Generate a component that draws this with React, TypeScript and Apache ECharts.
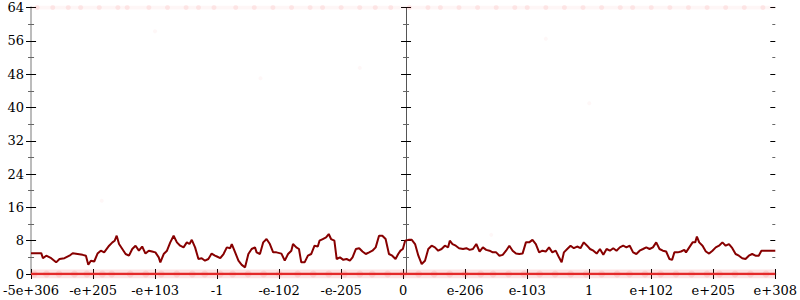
import React, { useEffect, useRef } from "react";
import * as echarts from "echarts";

// x axis: 13 evenly spaced tick positions (0..12) with these labels
const xTickLabels = [
  "-5e+306", "-e+205", "-e+103", "-1", "-e-102", "-e-205", "0",
  "e-206", "e-103", "1", "e+102", "e+205", "e+308",
];

// main dark-red line (x in tick-position units, y in value units)
const lineX = [
  0, 0.165, 0.192, 0.245, 0.325, 0.405, 0.459, 0.539, 0.619, 0.672, 0.752, 0.832, 0.885, 0.923, 0.965,
  1.019, 1.072, 1.125, 1.179, 1.259, 1.312, 1.349, 1.381, 1.419, 1.472, 1.525, 1.579, 1.632, 1.685, 1.739,
  1.792, 1.845, 1.899, 1.952, 2.005, 2.059, 2.085, 2.139, 2.192, 2.245, 2.299, 2.352, 2.405, 2.459, 2.512,
  2.555, 2.592, 2.645, 2.699, 2.752, 2.805, 2.859, 2.912, 2.965,
  2.997, 3.051, 3.104, 3.157, 3.211, 3.237, 3.291, 3.344, 3.397, 3.451, 3.504, 3.557, 3.611, 3.637, 3.691,
  3.744, 3.797, 3.851, 3.904, 3.957, 4.037, 4.091, 4.144, 4.197, 4.224, 4.277, 4.32, 4.357, 4.411, 4.464,
  4.517, 4.571, 4.624, 4.651, 4.704, 4.757, 4.8, 4.837, 4.891, 4.928, 4.981, 5.035, 5.088, 5.141, 5.184,
  5.237, 5.291, 5.344, 5.397, 5.451, 5.504, 5.557, 5.611, 5.664, 5.717, 5.771, 5.824, 5.877, 5.92, 5.957,
  5.995, 6.032, 6.085, 6.139, 6.192, 6.245, 6.299, 6.352, 6.405, 6.459, 6.512, 6.565, 6.619, 6.672, 6.725,
  6.752, 6.795, 6.848, 6.901, 6.965, 7.019, 7.072, 7.125, 7.179, 7.232, 7.285, 7.339, 7.392, 7.445, 7.499,
  7.552, 7.605, 7.659, 7.712, 7.765, 7.819, 7.872, 7.925, 7.979, 8.032, 8.085, 8.139, 8.192, 8.245, 8.299,
  8.352, 8.405, 8.459, 8.512, 8.555, 8.592, 8.645, 8.699, 8.752, 8.805, 8.859, 8.912, 8.965,
  9.013, 9.067, 9.12, 9.173, 9.227, 9.28, 9.333, 9.387, 9.44, 9.493, 9.547, 9.6, 9.653, 9.707, 9.76,
  9.813, 9.867, 9.92, 9.973, 10.027, 10.08, 10.133, 10.187, 10.24, 10.293, 10.336, 10.373, 10.427, 10.48, 10.533,
  10.56, 10.613, 10.667, 10.709, 10.736, 10.773, 10.827, 10.88, 10.933, 10.987, 11.04, 11.093, 11.147, 11.2, 11.253,
  11.307, 11.36, 11.413, 11.467, 11.52, 11.573, 11.627, 11.68, 11.733, 11.776, 12,
];
const lineY = [
  5.0, 5.0, 3.8, 4.4, 3.8, 2.8, 3.6, 3.8, 4.4, 5.0, 4.8, 4.6, 4.4, 2.2, 3.2,
  3.0, 4.9, 5.6, 5.2, 6.8, 7.6, 8.0, 9.2, 7.2, 6.0, 4.8, 4.4, 6.0, 6.8, 5.6,
  6.6, 4.9, 5.6, 5.4, 5.2, 4.0, 2.8, 4.8, 5.6, 7.6, 9.2, 7.6, 6.8, 6.4, 7.6,
  7.2, 8.2, 6.4, 3.6, 3.8, 3.2, 3.6, 4.9, 4.4,
  4.2, 3.8, 4.8, 6.4, 6.2, 7.2, 5.2, 3.2, 2.2, 1.6, 4.8, 6.0, 6.4, 5.2, 4.8,
  7.6, 8.4, 7.2, 5.2, 5.2, 4.9, 3.2, 4.8, 5.6, 7.2, 6.4, 6.0, 2.8, 2.8, 4.4,
  4.8, 6.8, 6.6, 8.0, 8.4, 8.8, 9.6, 8.4, 8.0, 3.6, 4.0, 3.4, 3.6, 3.2, 4.0,
  6.0, 6.2, 5.4, 4.8, 5.2, 5.6, 6.4, 9.2, 9.2, 8.4, 4.8, 4.4, 3.6, 4.8, 5.6,
  6.0, 8.0, 8.2, 8.2, 7.2, 4.4, 2.4, 3.2, 6.0, 6.8, 6.4, 5.6, 6.0, 6.8, 6.4,
  8.0, 7.2, 6.8, 6.2, 6.0, 6.2, 5.8, 6.0, 7.2, 5.4, 6.4, 5.8, 5.6, 5.2, 5.2,
  4.4, 4.6, 5.6, 6.8, 5.6, 4.9, 4.8, 4.9, 7.6, 7.6, 8.2, 7.2, 5.2, 5.6, 5.4,
  6.4, 5.2, 5.6, 4.0, 2.8, 5.2, 6.0, 6.8, 6.2, 6.6, 6.2, 7.6, 6.8,
  6.0, 5.6, 4.9, 6.0, 4.6, 6.0, 5.6, 6.2, 5.6, 6.4, 6.8, 6.4, 6.8, 5.2, 4.8,
  5.6, 6.0, 6.4, 6.0, 6.4, 7.6, 6.0, 5.6, 5.4, 3.6, 3.4, 5.2, 5.2, 5.4, 5.8,
  5.2, 6.4, 7.6, 7.6, 9.0, 7.6, 6.8, 5.4, 4.9, 5.6, 6.4, 6.8, 7.6, 6.8, 7.2,
  6.2, 4.8, 4.4, 3.8, 3.6, 4.4, 4.8, 4.4, 4.4, 5.6, 5.6,
];

// faint red points lying on the top edge (value 64)
const topPointX = [
  0.1, 0.35, 0.6, 0.8, 1.1, 1.4, 1.55, 1.9, 2.2, 2.5, 2.7, 2.95, 3.3, 3.6, 3.9, 4.2, 4.5, 4.7,
  5.0, 5.3, 5.55, 5.8, 6.1, 6.4, 6.6, 6.9, 7.2, 7.5, 7.8, 8.0, 8.3, 8.6, 8.9, 9.2, 9.5, 9.7,
  10.0, 10.3, 10.6, 10.9, 11.2, 11.5, 11.8,
];
const topValue = 64;

// faint red points lying on the bottom edge (value 0)
const bottomPointX = [
  0.05, 0.25, 0.45, 0.7, 0.9, 1.15, 1.3, 1.6, 1.85, 2.1, 2.35, 2.6, 2.8, 3.05, 3.25, 3.5, 3.75, 4.0,
  4.3, 4.55, 4.8, 5.05, 5.3, 5.5, 5.75, 6.0, 6.25, 6.5, 6.75, 7.0, 7.25, 7.45, 7.7, 7.95, 8.2, 8.45,
  8.7, 8.95, 9.2, 9.45, 9.65, 9.9, 10.15, 10.4, 10.65, 10.9, 11.1, 11.35, 11.6, 11.85,
];
const bottomValue = 0;

// a few stray faint points
const strayX = [2.0, 1.14, 7.42, 3.7, 5.3, 8.3, 9.0];
const strayY = [58.3, 17.6, 9.4, 47.0, 49.5, 56.5, 41.0];

const yLabelsMin = 0;
const yLabelsMax = 64;
const yInterval = 8;

const FONT = "DejaVu Serif";

export default function App() {
  const ref = useRef<HTMLDivElement>(null);
  useEffect(() => {
    if (!ref.current) return;
    const chart = echarts.init(ref.current, undefined, { renderer: "svg" });

    const linePairs = lineX.map((x, i) => [x, lineY[i]]);
    const topPairs = topPointX.map((x) => [x, topValue]);
    const bottomPairs = bottomPointX.map((x) => [x, bottomValue]);
    const strayPairs = strayX.map((x, i) => [x, strayY[i]]);

    const yBase = {
      type: "value" as const,
      min: yLabelsMin,
      max: yLabelsMax,
      interval: yInterval,
      splitLine: { show: false },
    };
    const grey = "#bcbcbc";

    const yAxes: any[] = [
      {
        ...yBase,
        position: "left",
        axisLine: { show: true, lineStyle: { color: grey, width: 2 } },
        axisTick: { show: true, length: 5, lineStyle: { color: "#000", width: 1 } },
        minorTick: { show: true, splitNumber: 2, length: 3, lineStyle: { color: "#666", width: 1 } },
        axisLabel: { show: true, margin: 7, color: "#000", fontFamily: FONT, fontSize: 13 },
      },
      {
        ...yBase,
        position: "left",
        axisLine: { show: false },
        axisTick: { show: true, inside: true, length: 5, lineStyle: { color: "#000", width: 1 } },
        minorTick: { show: true, splitNumber: 2, length: 3, lineStyle: { color: "#666", width: 1 } },
        axisLabel: { show: false },
      },
      {
        ...yBase,
        position: "right",
        axisLine: { show: true, lineStyle: { color: grey, width: 2 } },
        axisTick: { show: true, length: 5, lineStyle: { color: "#000", width: 1 } },
        minorTick: { show: true, splitNumber: 2, length: 3, lineStyle: { color: "#666", width: 1 } },
        axisLabel: { show: false },
      },
      {
        ...yBase,
        position: "right",
        axisLine: { show: false },
        axisTick: { show: true, inside: true, length: 5, lineStyle: { color: "#000", width: 1 } },
        minorTick: { show: true, splitNumber: 2, length: 3, lineStyle: { color: "#666", width: 1 } },
        axisLabel: { show: false },
      },
      {
        ...yBase,
        position: "left",
        offset: -375,
        axisLine: { show: true, lineStyle: { color: "#555", width: 1 } },
        axisTick: { show: true, length: 5, lineStyle: { color: "#000", width: 1 } },
        minorTick: { show: true, splitNumber: 2, length: 3, lineStyle: { color: "#666", width: 1 } },
        axisLabel: { show: false },
      },
      {
        ...yBase,
        position: "left",
        offset: -375,
        axisLine: { show: false },
        axisTick: { show: true, inside: true, length: 5, lineStyle: { color: "#000", width: 1 } },
        minorTick: { show: true, splitNumber: 2, length: 3, lineStyle: { color: "#666", width: 1 } },
        axisLabel: { show: false },
      },
    ];

    const xBase = {
      type: "value" as const,
      min: 0,
      max: xTickLabels.length - 1,
      interval: 1,
      splitLine: { show: false },
    };
    const xAxes: any[] = [
      {
        ...xBase,
        position: "bottom",
        axisLine: { show: true, lineStyle: { color: grey, width: 2 } },
        axisTick: { show: true, length: 5, lineStyle: { color: "#000", width: 1 } },
        axisLabel: {
          show: true,
          margin: 10,
          color: "#000",
          fontFamily: FONT,
          fontSize: 13,
          formatter: (v: number) => xTickLabels[Math.round(v)] ?? "",
        },
      },
      {
        ...xBase,
        position: "bottom",
        axisLine: { show: false },
        axisTick: { show: true, inside: true, length: 5, lineStyle: { color: "#000", width: 1 } },
        axisLabel: { show: false },
      },
      {
        ...xBase,
        position: "top",
        axisLine: { show: true, lineStyle: { color: grey, width: 2 } },
        axisTick: { show: false },
        axisLabel: { show: false },
      },
    ];

    chart.setOption({
      animation: false,
      grid: { left: 28, right: 22, top: 7.5, bottom: 26, containLabel: false },
      xAxis: xAxes,
      yAxis: yAxes,
      series: [
        {
          type: "line",
          data: [
            [0, bottomValue],
            [xTickLabels.length - 1, bottomValue],
          ],
          showSymbol: false,
          lineStyle: { color: "rgba(235,40,40,0.13)", width: 9 },
          clip: true,
          z: 3,
        },
        {
          type: "line",
          data: [
            [0, bottomValue],
            [xTickLabels.length - 1, bottomValue],
          ],
          showSymbol: false,
          lineStyle: { color: "#e42a2a", width: 2.5 },
          clip: true,
          z: 4,
        },
        {
          type: "scatter",
          data: bottomPairs,
          symbolSize: 7,
          itemStyle: { color: "rgba(240,60,60,0.14)" },
          clip: true,
          z: 3,
        },
        {
          type: "scatter",
          data: topPairs,
          symbolSize: 5,
          itemStyle: { color: "rgba(240,60,60,0.12)" },
          clip: true,
          z: 3,
        },
        {
          type: "line",
          data: [
            [0, topValue],
            [xTickLabels.length - 1, topValue],
          ],
          showSymbol: false,
          lineStyle: { color: "rgba(240,80,80,0.05)", width: 4 },
          clip: true,
          z: 3,
        },
        {
          type: "scatter",
          data: strayPairs,
          symbolSize: 4,
          itemStyle: { color: "rgba(240,80,80,0.06)" },
          clip: true,
          z: 3,
        },
        {
          type: "line",
          data: linePairs,
          showSymbol: false,
          lineStyle: { color: "#870000", width: 2 },
          z: 5,
        },
      ],
    });
    return () => chart.dispose();
  }, []);

  return (
    <div
      ref={ref}
      style={{ position: "absolute", left: 0, top: 0, width: 800, height: 300, background: "#fff" }}
    />
  );
}
